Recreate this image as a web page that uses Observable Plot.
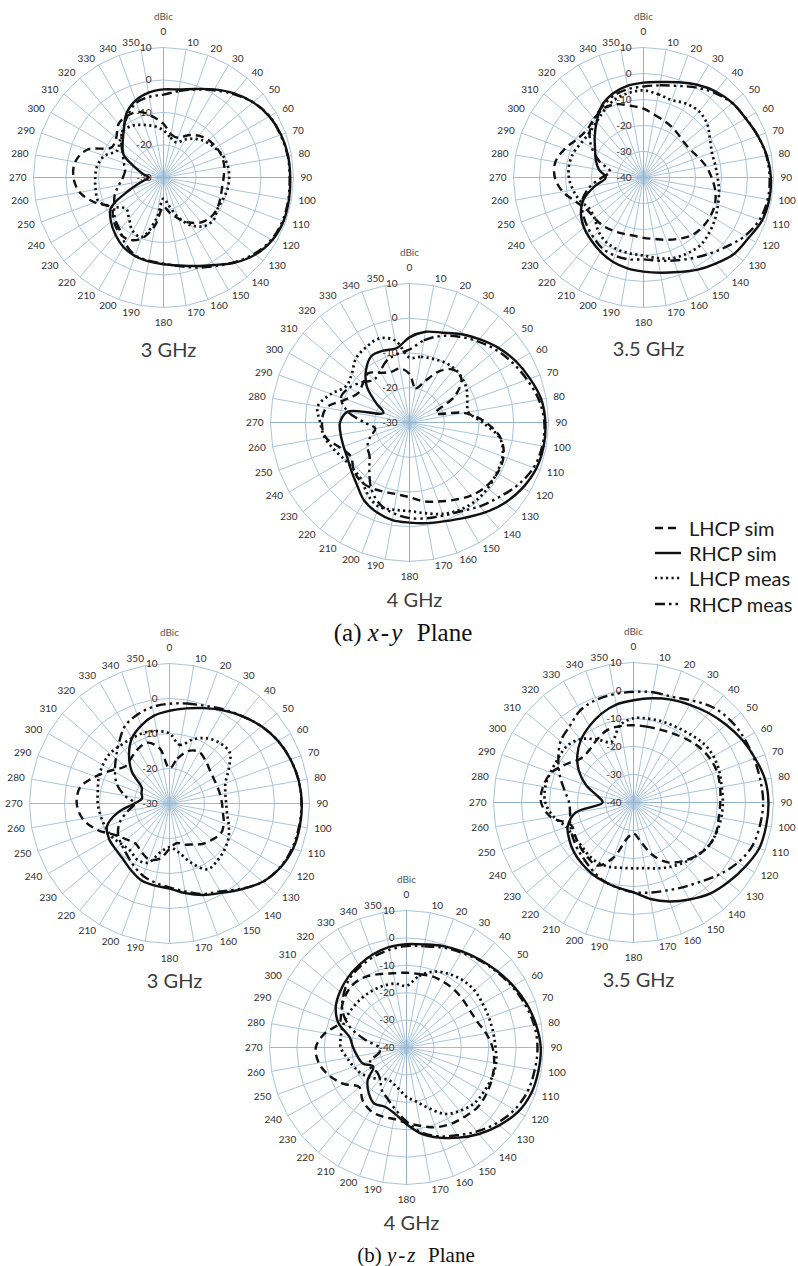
<!DOCTYPE html>
<html><head><meta charset="utf-8">
<script src="https://cdn.jsdelivr.net/npm/d3@7"></script>
<script src="https://cdn.jsdelivr.net/npm/@observablehq/plot@0.6"></script>
<style>
body{margin:0;background:#fff;}
#page{position:relative;width:798px;height:1266px;overflow:hidden;background:#fff;}
.panel{position:absolute;}
.plane{position:absolute;transform:translate(-50%,-50%);white-space:pre;font-family:"Liberation Serif","Times New Roman",serif;color:#111;line-height:1;}
.legend{position:absolute;left:655px;top:515px;font-family:Lato,"Open Sans",sans-serif;font-size:20px;color:#1a1a1a;}
.legend .row{display:flex;align-items:center;height:25.3px;white-space:nowrap;}
.legend svg{display:block;}
.legend span{margin-left:8px;}
</style></head><body><div id="page"></div>
<script>
// ---------- categories / tick labels ----------
const angles = d3.range(0, 360, 10);               // 0,10,...,350 degrees
const ticks30 = [-30, -20, -10, 0, 10];             // dBic rings, panels with -30 floor
const ticks40 = [-40, -30, -20, -10, 0, 10];        // dBic rings, panels with -40 floor
const seriesNames = ["LHCP sim", "RHCP sim", "LHCP meas", "RHCP meas"];
const freqLabels = ["3 GHz", "3.5 GHz", "4 GHz"];
const planeLabels = ["(a) ", "x-y", "  Plane", "(b) ", "y-z", "  Plane"];

// ---------- (a) x-y plane, 3 GHz ----------
const xy3_LHCPsim  = [-13.5,-16.5,-17,-15,-13.2,-12,-11.3,-10.9,-11,-11.5,-11.7,-11.4,-10.9,-11,-12,-14,-16.5,-19,-21,-15,-10,-8,-8.4,-9.8,-11.5,-7.5,-3.8,-2.3,-2.4,-5,-11.5,-11,-8.5,-8,-8.5,-11];
const xy3_RHCPsim  = [-2.9,-2.5,-1.0,1.3,3.8,6.0,7.6,8.5,8.9,9.0,9.2,9.3,8.6,6.9,4.2,1.1,-1.0,-2.5,-3.3,-3.8,-4.3,-5.3,-7.0,-8.9,-11.3,-19,-23.5,-25.5,-23.5,-20.5,-15.8,-13.6,-11,-7.2,-4.8,-3.5];
const xy3_LHCPmeas = [-15.5,-17.5,-18.5,-16.5,-14.5,-13,-11.8,-10.5,-9.9,-9.8,-10,-10.5,-10.8,-9.8,-10.5,-13,-17,-21.5,-23.5,-17,-10.5,-11,-13.5,-15,-12,-8.7,-8.8,-9,-9.3,-10.6,-13.5,-12.5,-11,-11.5,-12.8,-14];
const xy3_RHCPmeas = [-4.5,-3.0,-1.2,1.0,3.5,6.0,7.7,8.3,8.8,8.8,9.0,9.0,8.3,6.5,4.0,1.5,-0.5,-2.3,-3.5,-4.0,-4.5,-6.5,-9,-10.5,-12.5,-14,-16,-17.5,-18,-17,-15.5,-13,-10.5,-8,-5.5,-4.8];
// ---------- (a) x-y plane, 3.5 GHz ----------
const xy35_LHCPsim  = [-13.5,-15.5,-16.8,-17.8,-18.8,-19.4,-19,-17.5,-15.5,-13.8,-12,-10.7,-10.3,-10.4,-11,-12.8,-14.5,-16,-16.8,-17.3,-17,-16.4,-15.8,-15.5,-15,-12.5,-8.5,-5.9,-5.6,-7.8,-10.5,-11.5,-10.5,-9.3,-10,-12];
const xy35_RHCPsim  = [-3.5,-2.7,-1.0,1.2,3.2,4.6,5.4,6.8,8.2,9.0,9.1,8.5,6.6,5.6,3.2,1.0,-1.3,-2.8,-3.8,-4.5,-5.5,-7.0,-8.6,-10.1,-12.2,-15.5,-21,-25.5,-22.6,-20.5,-18.5,-15.5,-12,-8,-5.6,-4.2];
const xy35_LHCPmeas = [-6.5,-7.5,-8.3,-7.2,-6.8,-8,-10.5,-12,-12,-11.5,-10.5,-9.5,-8.2,-7,-6,-6.3,-7,-8.5,-10,-10.3,-10.6,-11.3,-13,-15.5,-16,-14,-12.5,-11.3,-11,-11.5,-12.7,-13,-12,-10,-8,-7];
const xy35_RHCPmeas = [-5,-4,-2.5,0,2.5,4.5,5.5,6.8,8,8.5,8.5,7.5,5.0,1.5,-1.5,-4,-6,-7.5,-8.5,-8,-8,-8.5,-10,-11.5,-13,-15,-19,-24,-27,-22,-17,-13,-10.5,-8.5,-6.5,-5.5];
// ---------- (a) x-y plane, 4 GHz ----------
const xy4_LHCPsim  = [-16,-20,-17.5,-13,-10.2,-10.5,-15,-22,-14,-8,-3.3,-1.2,-0.8,-1.3,-2.5,-4.3,-5.8,-7,-8.5,-9,-8.8,-8.2,-8,-9,-10.5,-8.8,-5.5,-4.8,-5.7,-10.5,-13,-12.5,-11.5,-13.5,-14.5,-14.2];
const xy4_RHCPsim  = [-5.5,-3.5,-2.5,-0.6,1.3,3.4,5.3,6.9,8.5,9.1,9.2,8.8,7.6,5.9,3.8,1.7,0.2,-0.6,-1.2,-1.5,-2.5,-4.0,-6.5,-8.2,-9.4,-9.8,-9.9,-10,-12,-22,-19,-14,-10.5,-8,-8,-8.3];
const xy4_LHCPmeas = [-11.3,-10.8,-10.5,-10,-9.8,-10.2,-11,-12.3,-12.8,-9,-3.5,-1.5,-1,-0.6,-0.5,-1,-2,-3.5,-4.5,-4.5,-4.2,-6,-8.5,-9,-8.5,-7,-5.2,-4.3,-3.2,-6,-9,-8.3,-6,-5,-4.3,-6];
const xy4_RHCPmeas = [-9,-6,-3.5,-1.5,0.5,2.5,4.3,6.0,7.8,8.8,8.8,8.0,6.0,3.5,1.5,-0.5,-1.5,-2,-2.5,-3.5,-5,-8,-12,-15,-16,-18,-20,-17,-12,-9,-10,-12,-14,-13,-11,-10];
// ---------- (b) y-z plane, 3 GHz ----------
const yz3_LHCPsim  = [-20,-17,-14,-13,-14,-15,-15.5,-15.5,-15.3,-15,-14.5,-13.5,-13,-14,-15,-16.5,-17.5,-18.5,-17,-14,-13,-14,-15,-14,-12,-8,-4.8,-3.5,-4,-7.5,-11,-13.5,-13,-12,-11.5,-14];
const yz3_RHCPsim  = [-3.5,-2.4,-1.0,0.7,2.5,4.3,5.8,6.8,7.5,7.8,7.8,7.6,6.6,4.8,2,-0.5,-2.2,-4,-5.7,-6.2,-6.6,-8,-9.3,-9.8,-10,-11,-15,-20,-22,-21.5,-20.8,-16,-12,-8.5,-6.3,-4.5];
const yz3_LHCPmeas = [-10,-13,-10.5,-8.5,-7.5,-7.5,-10.5,-13,-13.8,-13.8,-13.3,-12,-10.5,-9.5,-8.7,-8.3,-12,-16,-17.5,-16,-12,-11.5,-12.5,-12,-11,-10.5,-10,-9.5,-9.2,-8.5,-8,-7.8,-8.3,-8.5,-8.5,-9];
const yz3_RHCPmeas = [-1.5,-1.0,-0.3,1.0,2.5,4.3,5.8,6.8,7.5,7.7,7.6,7.3,6.5,4.8,1.8,-1.0,-2.5,-4.5,-6,-7,-8,-9.5,-11,-12,-13,-15,-18,-20,-17,-14,-12,-10,-7.5,-4.5,-3,-2];
// ---------- (b) y-z plane, 3.5 GHz ----------
const yz35_LHCPsim  = [-12.4,-12.5,-12.3,-11.6,-10.5,-9.3,-8.5,-8.2,-8.6,-9,-9.1,-8.6,-9,-10.5,-12.7,-15.3,-20,-26,-29,-27,-19,-14,-14.5,-15.2,-16,-16.3,-10,-7,-7.2,-8.8,-12.5,-15.5,-15.5,-14,-12.5,-12.3];
const yz35_RHCPsim  = [-3.5,-2.2,-0.9,0.3,1.7,3.2,4.8,6.2,7.7,8.2,8.1,7.8,6.0,4.2,2.5,0,-2.4,-5,-7.9,-9,-9.8,-10.5,-11.4,-12.3,-13.5,-15,-19,-29,-27,-22,-17.5,-13.8,-10.8,-8.5,-6.3,-4.5];
const yz35_LHCPmeas = [-9.9,-9.6,-9.3,-9,-8.3,-7.3,-7,-7.4,-8,-8.1,-8.2,-8.5,-9,-10.5,-12,-13.5,-15,-16.2,-16.5,-16.3,-15.5,-15,-15.3,-15.8,-15.3,-14.5,-11,-8.5,-8,-8.5,-8.8,-8.8,-10.5,-14,-17,-12];
const yz35_RHCPmeas = [-0.5,0,0.2,2.0,4.3,5.4,5.7,5.8,6.0,6.3,5.9,5.2,3.0,0,-3,-5,-6.5,-7.3,-8,-9,-10,-11.5,-13,-14,-15,-16,-17,-17,-15,-12,-9,-6,-4.5,-2,-1,-0.7];
// ---------- (b) y-z plane, 4 GHz ----------
const yz4_LHCPsim  = [-12.7,-12.8,-12.4,-12.5,-12.7,-13,-13.2,-12.5,-10.5,-8.6,-7.5,-6.8,-6.3,-6.1,-7,-7.8,-9,-11,-12.5,-13.5,-13.3,-13.5,-15,-17.5,-13.5,-10,-7.5,-6.9,-9.8,-14,-12.5,-10.8,-9.8,-10.2,-11.5,-12.5];
const yz4_RHCPsim  = [-2.3,-1.8,-0.6,0.5,1.8,3.3,5,6.7,8,9,8.9,8.5,7,4.2,1.2,-2,-5,-8,-12,-15.5,-17,-16.4,-18.5,-21.5,-26,-23,-21.8,-20.5,-19,-13.5,-10.2,-8.3,-6.7,-5.3,-3.9,-2.8];
const yz4_LHCPmeas = [-17.5,-13.5,-10.5,-9,-8,-7.6,-7.9,-8,-7.9,-7.5,-6.8,-7,-7.5,-8,-9.8,-12,-16.5,-20,-22,-24.5,-26,-26.5,-25,-23,-21,-19.5,-18,-16,-15.7,-15.5,-15.5,-15.6,-15.7,-15.8,-16,-16.3];
const yz4_RHCPmeas = [-3,-2.5,-1.2,0,1.5,3,4.5,6,7.3,7.8,7.5,7,5.5,3,0,-3,-5.5,-8.5,-13,-17,-20,-22,-25,-26,-25,-26,-30,-30,-25,-18,-13,-10,-7.5,-6,-4.8,-3.8];

// ---------- styles & layout ----------
const lineStyles = [
  {dash: "8,5", w: 2.4},
  {dash: null, w: 2.4},
  {dash: "2.2,3.3", w: 2.7},
  {dash: "10,4,2.5,4,2.5,4", w: 2.4}
];
const gridColor = "#a9c5db", blueAxis = "#93b2c9", redAxis = "#eaa08a", tickColor = "#2f2f2f";
const panels = [
  {title: freqLabels[0], cx: 162.7, cy: 176.7, R: 130, ticks: ticks30, lines: [xy3_LHCPsim, xy3_RHCPsim, xy3_LHCPmeas, xy3_RHCPmeas], h: blueAxis, v: blueAxis, tOff: 43},
  {title: freqLabels[1], cx: 642.7, cy: 176.7, R: 130, ticks: ticks40, lines: [xy35_LHCPsim, xy35_RHCPsim, xy35_LHCPmeas, xy35_RHCPmeas], h: redAxis, v: blueAxis, tOff: 42},
  {title: freqLabels[2], cx: 409.3, cy: 421.7, R: 139, ticks: ticks30, lines: [xy4_LHCPsim, xy4_RHCPsim, xy4_LHCPmeas, xy4_RHCPmeas], h: blueAxis, v: blueAxis, tOff: 39},
  {title: freqLabels[0], cx: 169.3, cy: 803.3, R: 140, ticks: ticks30, lines: [yz3_LHCPsim, yz3_RHCPsim, yz3_LHCPmeas, yz3_RHCPmeas], h: redAxis, v: redAxis, tOff: 38},
  {title: freqLabels[1], cx: 633.3, cy: 802, R: 140, ticks: ticks40, lines: [yz35_LHCPsim, yz35_RHCPsim, yz35_LHCPmeas, yz35_RHCPmeas], h: blueAxis, v: blueAxis, tOff: 38},
  {title: freqLabels[2], cx: 405.7, cy: 1047.3, R: 137, ticks: ticks40, lines: [yz4_LHCPsim, yz4_RHCPsim, yz4_LHCPmeas, yz4_RHCPmeas], h: redAxis, v: blueAxis, tOff: 39}
];

const page = document.getElementById("page");
const deg = Math.PI / 180;

function makePanel(cfg) {
  const {cx, cy, R, ticks, lines, title, h, v, tOff} = cfg;
  const lo = d3.min(ticks), hi = d3.max(ticks), span = hi - lo;
  const k = R / span;                 // px per dB
  const padX = 45, padT = 42, padB = 60;
  const W = 2 * (R + padX), H = 2 * R + padT + padB;
  const px = p => p / k;
  const X = (a, r) => r * Math.sin(a * deg);
  const Y = (a, r) => r * Math.cos(a * deg);
  const rings = ticks.filter(t => t > lo).flatMap(t => angles.map(a => ({t, a})));
  const regular = angles.filter(a => a % 90 !== 0);
  // angle-label placement: just outside the outer ring, box pushed sideways by its half width
  const lblX = a => {
    const s = Math.sin(a * deg), hw = String(a).length * 2.9;
    return X(a, span + px(7)) + (Math.abs(s) < 1e-9 ? 0 : Math.sign(s) * px(hw));
  };
  const lblY = a => (a % 180 === 0) ? Y(a, span + px(15.5)) : Y(a, span + px(7));
  const spoke = (list, color) => Plot.link(list, {
    x1: () => 0, y1: () => 0, x2: a => X(a, span), y2: a => Y(a, span),
    stroke: color, strokeWidth: 1
  });
  const marks = [
    Plot.line(rings, {x: d => X(d.a, d.t - lo), y: d => Y(d.a, d.t - lo), z: "t", curve: "linear-closed", stroke: gridColor, strokeWidth: 1}),
    spoke(regular, gridColor),
    spoke([0, 180], v),
    spoke([90, 270], h),
    Plot.text(angles, {x: lblX, y: lblY, text: a => String(a), fontSize: 10, fill: tickColor}),
    Plot.text(ticks, {x: () => px(-12), y: t => t - lo, text: t => String(t), textAnchor: "end", fontSize: 10, fill: tickColor}),
    Plot.text(["dBic"], {x: () => 0, y: () => span + px(31), text: d => d, fontSize: 10, fill: "#555"}),
    ...lines.map((vals, i) => Plot.line(angles.map((a, j) => ({a, val: vals[j]})), {
      x: d => X(d.a, d.val - lo), y: d => Y(d.a, d.val - lo),
      curve: "catmull-rom-closed", stroke: "#111",
      strokeWidth: lineStyles[i].w, strokeDasharray: lineStyles[i].dash, strokeLinecap: "butt"
    })),
    Plot.text([title], {x: () => px(5), y: () => -(span + px(tOff)), text: d => d, fontSize: 20, fill: "#3c3c3c"})
  ];
  const svg = Plot.plot({
    width: W, height: H, margin: 0,
    x: {domain: [-px(R + padX), px(R + padX)], axis: null},
    y: {domain: [-px(R + padB), px(R + padT)], axis: null},
    style: {background: "transparent", overflow: "visible", fontFamily: "Lato, 'Open Sans', sans-serif"},
    marks
  });
  const div = document.createElement("div");
  div.className = "panel";
  div.style.left = (cx - R - padX) + "px";
  div.style.top = (cy - R - padT) + "px";
  div.style.width = W + "px";
  div.appendChild(svg);
  page.appendChild(div);
}
panels.forEach(makePanel);

// ---------- legend ----------
const legend = document.createElement("div");
legend.className = "legend";
seriesNames.forEach((name, i) => {
  const row = document.createElement("div");
  row.className = "row";
  const s = lineStyles[i];
  row.innerHTML = `<svg width="26" height="10"><line x1="0" y1="5" x2="26" y2="5" stroke="#111" stroke-width="${s.w}" ${s.dash ? `stroke-dasharray="${s.dash}"` : ""}/></svg><span>${name}</span>`;
  legend.appendChild(row);
});
page.appendChild(legend);

// ---------- sub-figure captions ----------
function plane(parts, x, y, size) {
  const d = document.createElement("div");
  d.className = "plane";
  d.style.left = x + "px"; d.style.top = y + "px"; d.style.fontSize = size + "px";
  d.innerHTML = `${parts[0]}<i style="letter-spacing:2px">${parts[1]}</i>${parts[2]}`;
  page.appendChild(d);
}
plane(planeLabels.slice(0, 3), 403, 632, 25);
plane(planeLabels.slice(3, 6), 416, 1255, 21);
</script>
</body></html>
